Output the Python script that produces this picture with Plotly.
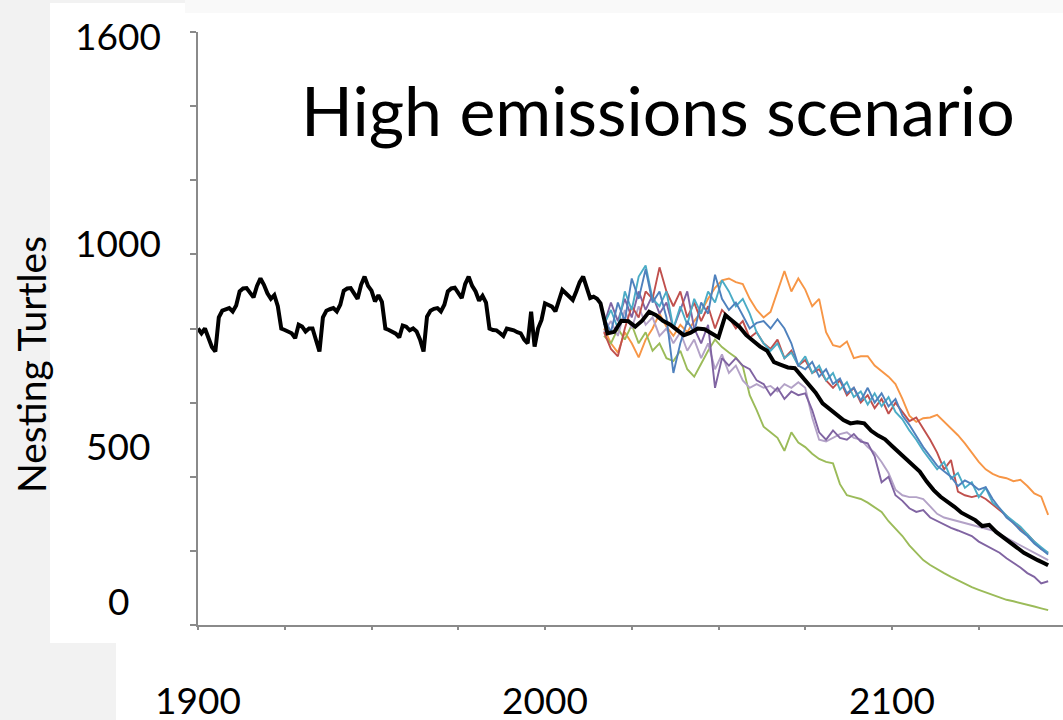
import plotly.graph_objects as go

# ---------------- data ----------------
hist_years = list(range(1900, 2017))
hist_values = [
    800, 787, 800, 775, 750, 738, 830, 848, 852, 855,
    846, 862, 900, 908, 909, 897, 884, 915, 935, 918,
    895, 880, 890, 860, 800, 796, 790, 787, 774, 810,
    805, 792, 800, 800, 769, 738, 830, 848, 852, 855,
    846, 864, 902, 908, 909, 895, 880, 918, 940, 915,
    902, 873, 890, 872, 800, 796, 790, 786, 776, 808,
    805, 795, 800, 792, 770, 738, 832, 848, 853, 855,
    846, 864, 900, 908, 910, 895, 882, 920, 940, 915,
    900, 875, 888, 870, 800, 796, 795, 788, 780, 800,
    798, 795, 790, 787, 770, 760, 845, 751, 800, 823,
    868, 862, 859, 846, 880, 904, 895, 886, 877, 900,
    925, 940, 913, 882, 886, 880, 868,
]

mean_years = list(range(2018, 2146, 2)) + [2145]
mean_values = [
    787, 791, 821, 820, 805, 821, 845, 836, 821, 811,
    796, 782, 789, 800, 798, 787, 776, 836, 820, 805,
    782, 765, 751, 740, 709, 702, 695, 693, 670, 648,
    627, 598, 583, 569, 553, 544, 547, 544, 524, 511,
    501, 483, 465, 447, 432, 414, 387, 364, 346, 333,
    319, 303, 292, 283, 267, 270, 251, 238, 223, 209,
    195, 184, 175, 166, 161,
]

proj_years = list(range(2017, 2146, 2))
run_orange = [
    800, 760, 735, 790, 760, 722, 770, 800, 840, 805,
    780, 810, 790, 820, 845, 880, 910, 930, 935, 925,
    920, 880, 850, 830, 845, 900, 955, 900, 935, 905,
    860, 880, 790, 755, 750, 765, 720, 725, 725, 700,
    685, 670, 650, 610, 565, 548, 558, 560, 567, 548,
    530, 512, 490, 465, 440, 420, 408, 400, 396, 388,
    392, 375, 355, 346, 297,
]
run_red = [
    790, 745, 725, 800, 860, 830, 900, 880, 965, 900,
    860, 900, 830, 870, 820, 860, 800, 850, 830, 800,
    820, 775, 790, 760, 745, 770, 720, 740, 700, 715,
    680, 690, 660, 640, 660, 620, 640, 600, 620, 585,
    610, 570, 600, 575, 550, 560, 530, 500, 465, 420,
    445, 360, 350, 345, 350, 340, 325, 310, 295, 275,
    260, 245, 225, 205, 195,
]
run_blue = [
    830, 790, 870, 820, 935, 880, 960, 870, 900, 830,
    680, 760, 820, 790, 870, 840, 945, 880, 850, 870,
    835, 800, 815, 820, 800, 825, 800, 760, 700, 690,
    710, 670, 690, 650, 665, 625, 640, 605, 640, 600,
    625, 590, 610, 565, 540, 510, 480, 455, 430, 415,
    400, 375, 390, 380, 365, 372, 340, 315, 290, 275,
    255, 240, 220, 205, 190,
]
run_teal = [
    810, 850, 800, 900, 850, 940, 970, 880, 860, 900,
    800, 860, 810, 880, 840, 900, 870, 930, 900, 860,
    880, 840, 790, 760, 740, 760, 720, 735, 700, 725,
    680, 700, 660, 680, 635, 655, 615, 630, 595, 625,
    590, 615, 575, 555, 525, 500, 470, 445, 420, 440,
    395, 410, 370, 385, 345, 370, 330, 315, 295, 280,
    265, 245, 225, 210, 195,
]
run_purple = [
    810, 870, 820, 880, 830, 900, 850, 890, 840, 870,
    800, 850, 900, 800, 760, 810, 640, 720, 700, 720,
    700, 690, 660, 650, 620, 640, 610, 630, 620, 625,
    580, 520, 500, 525, 505, 500, 515, 495, 490, 455,
    385, 400, 350, 335, 315, 305, 310, 290, 280, 270,
    262, 255, 248, 240, 225, 215, 205, 195, 180, 168,
    155, 140, 130, 112, 118,
]
run_lavender = [
    790, 820, 780, 850, 800, 860, 810, 830, 780, 800,
    760, 790, 740, 770, 720, 760, 690, 730, 680, 700,
    660, 640, 650, 640, 645, 630, 650, 640, 655, 640,
    560, 500, 495, 505, 515, 520, 505, 500, 480, 465,
    440, 410, 365, 350, 345, 345, 340, 320, 300, 290,
    285, 280, 275, 270, 265, 262, 255, 245, 235, 225,
    215, 205, 195, 185, 175,
]
run_green = [
    780, 760, 800, 770, 810, 760, 790, 740, 760, 720,
    712, 740, 690, 670, 705, 740, 770, 750, 735, 722,
    698, 620, 580, 535, 520, 505, 470, 520, 492, 480,
    462, 448, 440, 436, 380, 350, 345, 340, 330, 318,
    305, 280, 260, 240, 215, 195, 175, 162, 150, 140,
    130, 120, 110, 102, 95, 88, 80, 73, 68, 64,
    60, 55, 50, 45, 40,
]

y_tick_labels = ["1600", "1000", "500", "0"]
x_tick_labels = ["1900", "2000", "2100"]
x_label_years = [1900, 2000, 2100]
title_text = "High emissions scenario"
y_title_text = "Nesting Turtles"

# ---------------- layout geometry ----------------
W, H = 1063, 720
ML, MR, MT, MB = 198, 0, 32, 95
PW, PH = W - ML - MR, H - MT - MB
PX_PER_YEAR = 3.47
X0 = 1900
X1 = X0 + PW / PX_PER_YEAR


def px_x(px):
    return (px - ML) / PW


def px_y(py):
    return (H - MB - py) / PH


# label anchor positions (data units) as they sit in the picture
y_label_pos = [1590, 1033, 483, 67]

FONT = "Lato"

fig = go.Figure()

runs = [
    (run_orange, "#F79646"),
    (run_green, "#9BBB59"),
    (run_lavender, "#B3A2C7"),
    (run_purple, "#8064A2"),
    (run_red, "#C0504D"),
    (run_teal, "#4BACC6"),
    (run_blue, "#4F81BD"),
]
for vals, col in runs:
    fig.add_trace(go.Scatter(x=proj_years, y=vals, mode="lines",
                             line=dict(color=col, width=1.9),
                             showlegend=False, hoverinfo="skip"))

fig.add_trace(go.Scatter(x=hist_years + mean_years, y=hist_values + mean_values,
                         mode="lines", line=dict(color="#000000", width=4),
                         showlegend=False, hoverinfo="skip"))

shapes = [
    dict(type="rect", xref="paper", yref="paper", layer="below",
         x0=px_x(50), x1=px_x(1063), y0=px_y(643), y1=px_y(3),
         fillcolor="#ffffff", line=dict(width=0)),
    dict(type="rect", xref="paper", yref="paper", layer="below",
         x0=px_x(116), x1=px_x(1063), y0=px_y(720), y1=px_y(643),
         fillcolor="#ffffff", line=dict(width=0)),
    dict(type="rect", xref="paper", yref="paper", layer="below",
         x0=px_x(185), x1=px_x(1063), y0=px_y(13), y1=px_y(0),
         fillcolor="#f9f9f9", line=dict(width=0)),
]

annotations = []
for txt, pos in zip(y_tick_labels, y_label_pos):
    annotations.append(dict(text=txt, xref="paper", yref="y", x=px_x(118), y=pos,
                            xanchor="center", yanchor="middle", showarrow=False,
                            font=dict(family=FONT, size=37, color="#000000")))
for txt, yr in zip(x_tick_labels, x_label_years):
    annotations.append(dict(text=txt, xref="x", yref="paper", x=yr, y=px_y(699),
                            xanchor="center", yanchor="middle", showarrow=False,
                            height=34, valign="middle",
                            font=dict(family=FONT, size=37, color="#000000")))
annotations.append(dict(text=title_text, xref="paper", yref="paper",
                        x=px_x(658), y=px_y(109), xanchor="center", yanchor="middle",
                        showarrow=False, font=dict(family=FONT, size=68, color="#000000")))
annotations.append(dict(text=y_title_text, xref="paper", yref="paper",
                        x=px_x(31), y=px_y(365), xanchor="center", yanchor="middle",
                        textangle=-90, showarrow=False,
                        font=dict(family=FONT, size=39, color="#000000")))

fig.update_layout(
    width=W, height=H,
    margin=dict(l=ML, r=MR, t=MT, b=MB, pad=0),
    paper_bgcolor="#f2f2f2",
    plot_bgcolor="#ffffff",
    shapes=shapes,
    annotations=annotations,
    showlegend=False,
    xaxis=dict(range=[X0, X1], showgrid=False, zeroline=False,
               showline=True, linecolor="#8a8a8a", linewidth=2,
               ticks="outside", tick0=1900, dtick=25, ticklen=3,
               tickwidth=2, tickcolor="#8a8a8a", showticklabels=False,
               fixedrange=True),
    yaxis=dict(range=[0, 1600], showgrid=False, zeroline=False,
               showline=True, linecolor="#8a8a8a", linewidth=2,
               ticks="outside", tick0=0, dtick=200, ticklen=6,
               tickwidth=1.5, tickcolor="#8a8a8a", showticklabels=False,
               fixedrange=True),
)

fig.write_html("out.html")
